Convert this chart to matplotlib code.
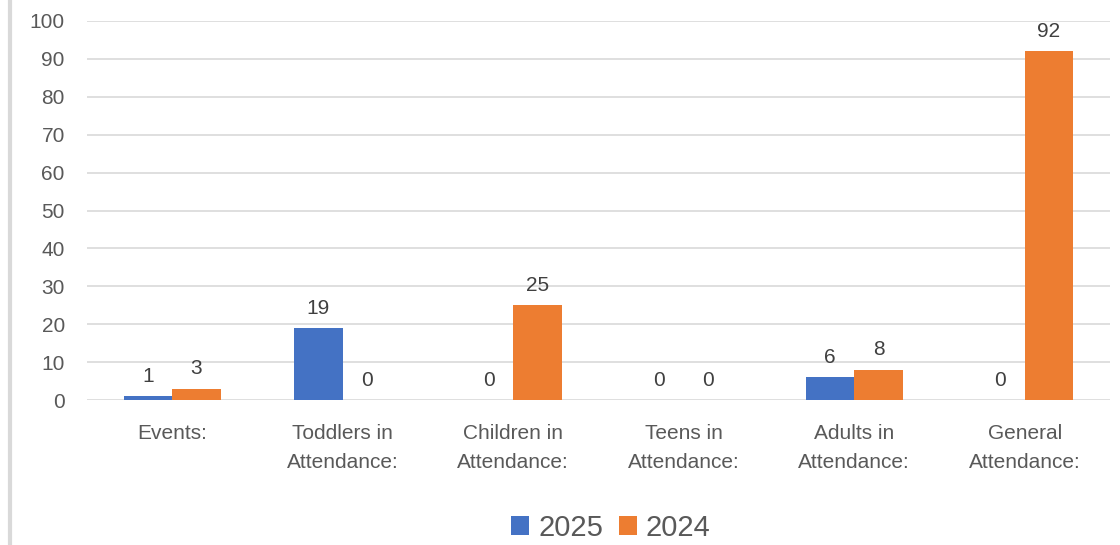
import numpy as np
import matplotlib; matplotlib.use("Agg")
import matplotlib.pyplot as plt
from matplotlib.lines import Line2D

categories = ["Events:", "Toddlers in\nAttendance:", "Children in\nAttendance:",
              "Teens in\nAttendance:", "Adults in\nAttendance:", "General\nAttendance:"]
v2025 = [1, 19, 0, 0, 6, 0]
v2024 = [3, 0, 25, 0, 8, 92]
series = ["2025", "2024"]
colors = ["#4472C4", "#ED7D31"]

plt.rcParams["font.family"] = ["Liberation Sans", "DejaVu Sans"]
fig = plt.figure(figsize=(11.2, 5.45), dpi=100)
ax = fig.add_axes([87/1120, 1-400/545, (1110-87)/1120, (400-21)/545])

x = np.arange(len(categories))
w = 0.285
for vals, off, c, lab in [(v2025, -w/2, colors[0], series[0]), (v2024, w/2, colors[1], series[1])]:
    bars = ax.bar(x + off, vals, w, color=c, label=lab, zorder=3)
    for b, v in zip(bars, vals):
        ax.annotate(str(v), (b.get_x() + b.get_width()/2, v), xytext=(0, 7.5),
                    textcoords="offset points", ha="center", va="bottom",
                    fontsize=15, color="#404040")

ax.set_xlim(-0.5, len(categories) - 0.5)
ax.set_ylim(0, 100)
ax.set_yticks(range(0, 101, 10))
ax.set_xticks(x)
ax.set_xticklabels(categories, fontsize=15, color="#595959", linespacing=1.72)
ax.tick_params(axis="y", labelsize=15, labelcolor="#595959", length=0, pad=16)
ax.tick_params(axis="x", length=0, pad=17)
ax.grid(axis="y", color="#D9D9D9", linewidth=1.2, zorder=0)
for s in ax.spines.values():
    s.set_visible(False)

fig.legend(loc="center", bbox_to_anchor=(611/1120, 1-528/545), ncol=2, frameon=False,
           fontsize=21, handlelength=0.62, handleheight=0.62, handletextpad=0.3,
           columnspacing=0.55, labelcolor="#595959")
fig.add_artist(Line2D([10/1120, 10/1120], [0, 1], color="#D9D9D9", linewidth=3,
                      transform=fig.transFigure))
fig.savefig("out.png", dpi=100)
